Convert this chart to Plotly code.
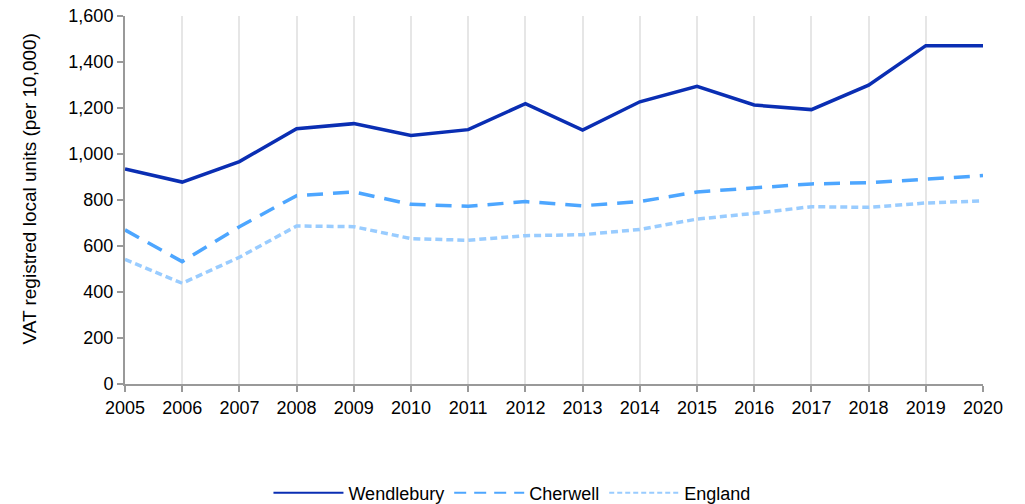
import plotly.graph_objects as go

years = list(range(2005, 2021))
wendlebury = [935, 878, 967, 1110, 1132, 1081, 1106, 1219, 1104, 1227, 1294, 1213, 1193, 1299, 1471, 1471]
cherwell = [670, 532, 684, 819, 835, 781, 773, 793, 775, 793, 835, 851, 870, 875, 890, 906]
england = [542, 438, 551, 687, 684, 632, 625, 645, 649, 672, 717, 742, 771, 768, 787, 796]

series = [
    ('Wendlebury', wendlebury, '#0a2eb3', 'solid', 'solid'),
    ('Cherwell', cherwell, '#4da6ff', '16px,10px', '12px,8px'),
    ('England', england, '#99ccff', '7px,4px', '5px,3px'),
]

fig = go.Figure()

for name, vals, color, dash, legend_dash in series:
    fig.add_trace(go.Scatter(
        x=years, y=vals, mode='lines', name=name, showlegend=False,
        line=dict(color=color, width=3.5, dash=dash)
    ))
    # thinner line just for the legend sample
    fig.add_trace(go.Scatter(
        x=[None], y=[None], mode='lines', name=name,
        line=dict(color=color, width=2, dash=legend_dash)
    ))

fig.add_annotation(
    text='VAT registred local units (per 10,000)',
    textangle=-90,
    xref='paper', yref='paper',
    x=0, y=0.531,
    xanchor='center', yanchor='middle',
    xshift=-95,
    showarrow=False,
    font=dict(size=19),
)

fig.update_layout(
    width=1025,
    height=504,
    margin=dict(l=125, r=42, t=16, b=120, autoexpand=False),
    paper_bgcolor='white',
    plot_bgcolor='white',
    font=dict(family='Liberation Sans, Arial, sans-serif', size=18, color='black'),
    showlegend=True,
    legend=dict(
        orientation='h',
        x=0.451, xanchor='center',
        y=-0.296, yanchor='middle',
        itemwidth=70,
        font=dict(size=18),
        bgcolor='rgba(0,0,0,0)',
    ),
    xaxis=dict(
        range=[2005, 2020],
        tickmode='array',
        tickvals=years,
        ticktext=[str(y) for y in years],
        showgrid=True,
        gridcolor='#e6e6e6',
        gridwidth=1.5,
        zeroline=False,
        showline=True,
        linecolor='#999999',
        linewidth=2,
        ticks='outside',
        tickcolor='#999999',
        ticklen=6,
        tickwidth=2,
        automargin=False,
    ),
    yaxis=dict(
        range=[0, 1600],
        dtick=200,
        tickformat=',',
        showgrid=False,
        zeroline=False,
        showline=True,
        linecolor='#999999',
        linewidth=2,
        ticks='outside',
        tickcolor='#999999',
        ticklen=6,
        tickwidth=2,
        automargin=False,
    ),
)

# drop the default page margin so the figure fills the window exactly
fig.write_html(
    "out.html",
    config={'displayModeBar': False},
    post_script="document.body.style.margin='0';",
)
